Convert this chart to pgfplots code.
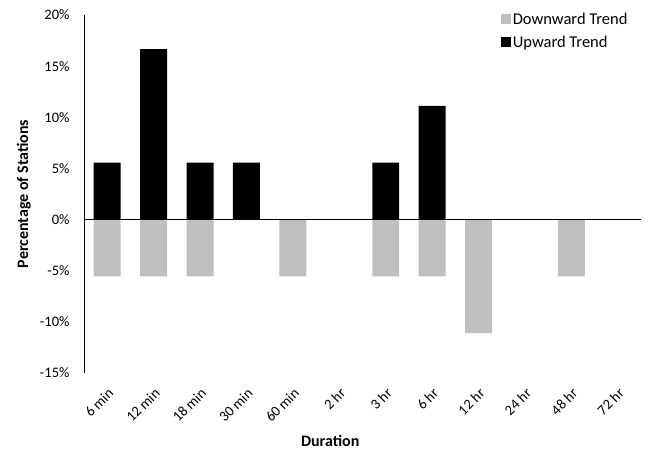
\documentclass[border=0pt]{standalone}
\usepackage{fontspec}
\setmainfont{Carlito}
\usepackage{pgfplots}
\pgfplotsset{compat=1.18}
\definecolor{downgray}{RGB}{191,191,191}

\begin{document}
\begin{tikzpicture}
\path[use as bounding box] (0,0) rectangle (648bp,450bp);
\begin{axis}[
    at={(84bp,77bp)}, anchor=south west,
    scale only axis,
    width=557bp, height=358bp,
    xmin=-0.5, xmax=11.5,
    ymin=-15, ymax=20,
    ytick={-15,-10,-5,0,5,10,15,20},
    yticklabel={\pgfmathprintnumber{\tick}\%},
    /pgf/number format/assume math mode=true,
    xtick={0,...,11},
    xticklabels={6 min,12 min,18 min,30 min,60 min,2 hr,3 hr,6 hr,12 hr,24 hr,48 hr,72 hr},
    xticklabel style={rotate=45, anchor=north east, font=\fontsize{14.5bp}{16bp}\selectfont},
    xticklabel shift=5bp,
    yticklabel style={font=\fontsize{14.5bp}{16bp}\selectfont},
    yticklabel shift=11bp,
    axis line style={draw=none},
    tick style={draw=none},
    xlabel={Duration},
    ylabel={Percentage of Stations},
    xlabel style={font=\fontsize{16bp}{18bp}\selectfont\bfseries, at={(axis description cs:0.442,-0.19)}, anchor=center},
    ylabel style={font=\fontsize{16bp}{18bp}\selectfont\bfseries, at={(axis description cs:-0.108,0.5)}, anchor=center},
    ybar, bar width=0.58, bar shift=0pt,
    legend style={draw=none, fill=none, at={(rel axis cs:0.748,1.012)}, anchor=north west,
        font=\fontsize{16.5bp}{18bp}\selectfont, row sep=6bp, inner sep=0pt,
        /tikz/every even column/.append style={column sep=4bp}},
    legend cell align=left,
    legend image code/.code={\fill[#1] (0bp,-5bp) rectangle (10bp,5bp);},
]
\addplot[fill=downgray, draw=none] coordinates {
    (0,-5.56)(1,-5.56)(2,-5.56)(3,0)(4,-5.56)(5,0)(6,-5.56)(7,-5.56)(8,-11.11)(9,0)(10,-5.56)(11,0)
};
\addlegendentry{Downward Trend}
\addplot[fill=black, draw=none] coordinates {
    (0,5.56)(1,16.67)(2,5.56)(3,5.56)(4,0)(5,0)(6,5.56)(7,11.11)(8,0)(9,0)(10,0)(11,0)
};
\addlegendentry{Upward Trend}
\draw[black, line width=1bp] (axis cs:-0.5,-15) -- (axis cs:-0.5,20);
\draw[black, line width=1bp] (axis cs:-0.5,0) -- (axis cs:11.5,0);
\end{axis}
\end{tikzpicture}
\end{document}
